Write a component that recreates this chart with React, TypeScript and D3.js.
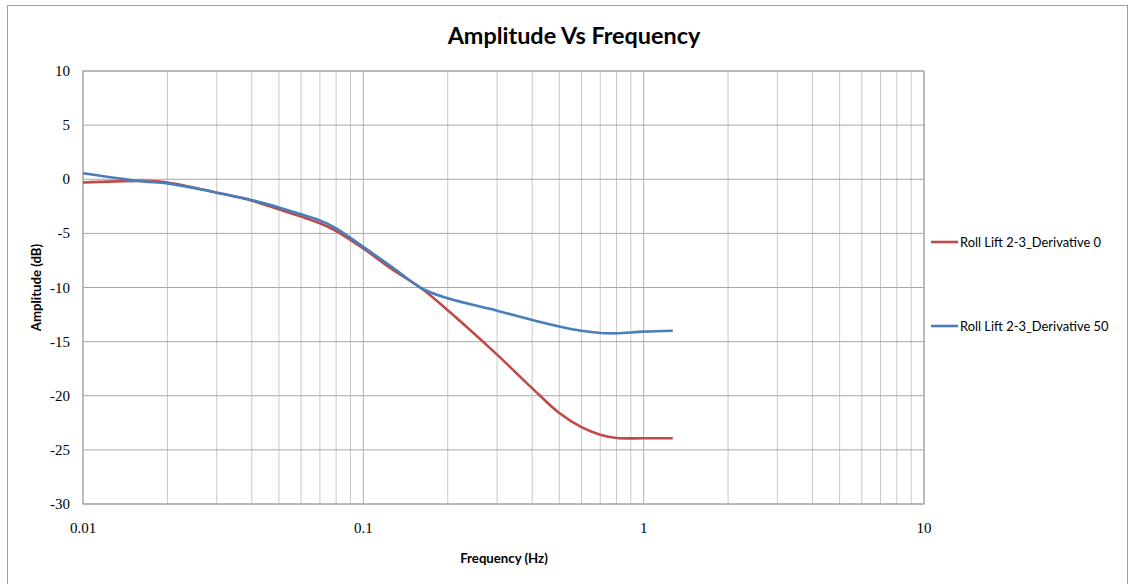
import React from "react";
import * as d3 from "d3";

const frequencies = [0.01, 0.0164, 0.02, 0.03, 0.04, 0.05, 0.06, 0.07, 0.08, 0.1, 0.128, 0.161, 0.2, 0.3, 0.4, 0.5, 0.6, 0.7, 0.8, 1.0, 1.27];
const derivative0 = [-0.3, -0.15, -0.3, -1.24, -1.98, -2.78, -3.45, -4.07, -4.78, -6.4, -8.4, -10.07, -12.1, -16.2, -19.3, -21.6, -22.9, -23.6, -23.9, -23.93, -23.93];
const derivative50 = [0.55, -0.2, -0.38, -1.24, -1.92, -2.6, -3.24, -3.8, -4.53, -6.25, -8.2, -10.07, -11.0, -12.14, -13.0, -13.6, -14.0, -14.2, -14.23, -14.08, -14.0];
const seriesNames = ["Roll Lift 2-3_Derivative 0", "Roll Lift 2-3_Derivative 50"];
const seriesColors = ["#BE4B48", "#4A7EBB"];
const yTicks = [10, 5, 0, -5, -10, -15, -20, -25, -30];
const xTicks = [0.01, 0.1, 1, 10];

const W = 1133, H = 584;
const L = 83, R = 924, T = 71, B = 504;

export default function App() {
  const x = d3.scaleLog().domain([0.01, 10]).range([L, R]);
  const y = d3.scaleLinear().domain([-30, 10]).range([B, T]);
  const minor: number[] = [];
  for (let e = -2; e < 1; e++) for (let k = 2; k <= 9; k++) minor.push(k * Math.pow(10, e));
  const line = d3.line<number>().x((_, i) => x(frequencies[i])).y((v) => y(v)).curve(d3.curveCatmullRom.alpha(0.5));
  const series = [derivative0, derivative50];
  const legendY = [242, 326];
  return (
    <svg width={W} height={H} style={{ position: "fixed", left: 0, top: 0, background: "#fff" }}>
      <rect x={7.5} y={5.5} width={1120} height={585} fill="#fff" stroke="#a0a0a0" />
      <text x={574} y={44} textAnchor="middle" fontFamily="Lato, sans-serif" fontWeight="bold" fontSize={23.4}>Amplitude Vs Frequency</text>
      {minor.map((m) => (
        <line key={"m" + m} x1={x(m)} x2={x(m)} y1={T} y2={B} stroke="#c8c8c8" strokeWidth={1} />
      ))}
      {xTicks.map((t) => (
        <line key={"x" + t} x1={x(t)} x2={x(t)} y1={T} y2={B} stroke="#b0b0b0" strokeWidth={1} />
      ))}
      {yTicks.map((t) => (
        <line key={"y" + t} x1={L} x2={R} y1={y(t)} y2={y(t)} stroke="#a8a8a8" strokeWidth={1} />
      ))}
      <rect x={L} y={T} width={R - L} height={B - T} fill="none" stroke="#a0a0a0" />
      {yTicks.map((t) => (
        <text key={"yl" + t} x={70} y={y(t) + 5} textAnchor="end" fontFamily="Liberation Serif, serif" fontSize={15}>{t}</text>
      ))}
      {xTicks.map((t) => (
        <text key={"xl" + t} x={x(t)} y={533} textAnchor="middle" fontFamily="Liberation Serif, serif" fontSize={15}>{String(t)}</text>
      ))}
      <text x={504} y={563} textAnchor="middle" fontFamily="Lato, sans-serif" fontWeight="bold" fontSize={13.2}>Frequency (Hz)</text>
      <text transform={`translate(41,${(T + B) / 2}) rotate(-90)`} textAnchor="middle" fontFamily="Lato, sans-serif" fontWeight="bold" fontSize={13.2}>Amplitude (dB)</text>
      {series.map((s, i) => (
        <path key={"s" + i} d={line(s) || ""} fill="none" stroke={seriesColors[i]} strokeWidth={2.6} />
      ))}
      {seriesNames.map((n, i) => (
        <g key={"lg" + i}>
          <line x1={931} x2={958} y1={legendY[i]} y2={legendY[i]} stroke={seriesColors[i]} strokeWidth={2.6} />
          <text x={960} y={legendY[i] + 4.5} fontFamily="Lato, sans-serif" fontSize={12.9}>{n}</text>
        </g>
      ))}
    </svg>
  );
}
